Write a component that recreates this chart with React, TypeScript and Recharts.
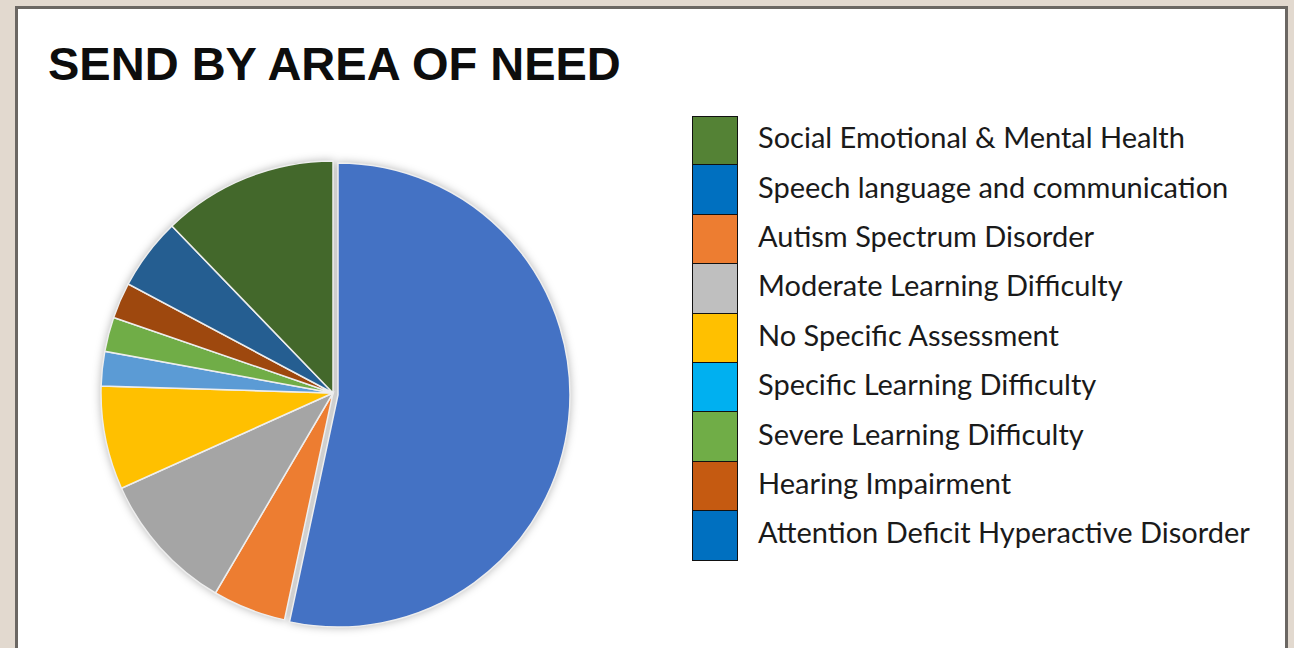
import React from 'react';
import { PieChart, Pie, Cell } from 'recharts';

// slices clockwise from 12 o'clock, share of pupils (%)
const categories = [
  'Speech language and communication',
  'Autism Spectrum Disorder',
  'Moderate Learning Difficulty',
  'No Specific Assessment',
  'Specific Learning Difficulty',
  'Severe Learning Difficulty',
  'Hearing Impairment',
  'Attention Deficit Hyperactive Disorder',
  'Social Emotional & Mental Health',
];
const shares = [53.3, 5.1, 9.8, 7.2, 2.4, 2.4, 2.5, 5.0, 12.2];
const sliceColors = ['#4472C4', '#ED7D31', '#A5A5A5', '#FFC000', '#5B9BD5', '#70AD47', '#9E480E', '#255E91', '#43682B'];

// the key beside the chart uses its own order and colours
const legendLabels = [
  'Social Emotional & Mental Health',
  'Speech language and communication',
  'Autism Spectrum Disorder',
  'Moderate Learning Difficulty',
  'No Specific Assessment',
  'Specific Learning Difficulty',
  'Severe Learning Difficulty',
  'Hearing Impairment',
  'Attention Deficit Hyperactive Disorder',
];
const legendColors = ['#548235', '#0070C0', '#ED7D31', '#BFBFBF', '#FFC000', '#00B0F0', '#70AD47', '#C55A11', '#0070C0'];

const data = categories.map((name, i) => ({ name, value: shares[i] }));

const CX = 333;
const CY = 393;
const R = 232;
const ROW = 49.4;

export default function App() {
  return (
    <div style={{ position: 'absolute', left: 0, top: 0, width: 1294, height: 648, background: '#e2d9cf', overflow: 'hidden' }}>
      <div
        style={{
          position: 'absolute',
          left: 15,
          top: 6,
          width: 1273,
          height: 700,
          background: '#fff',
          border: '3px solid #6b6763',
          boxSizing: 'border-box',
        }}
      />
      <div
        style={{
          position: 'absolute',
          left: 48,
          top: 41,
          fontFamily: '"Liberation Sans", Arial, sans-serif',
          fontWeight: 700,
          fontSize: 47,
          lineHeight: '46px',
          color: '#0d0d0d',
          whiteSpace: 'nowrap',
        }}
      >
        SEND BY AREA OF NEED
      </div>

      <div style={{ position: 'absolute', left: 0, top: 0, filter: 'drop-shadow(0 0 4px rgba(0,0,0,0.28))' }}>
        <PieChart width={680} height={648} margin={{ top: 0, right: 0, bottom: 0, left: 0 }}>
          <Pie
            data={data}
            dataKey="value"
            nameKey="name"
            cx={CX}
            cy={CY}
            outerRadius={R}
            startAngle={90}
            endAngle={-270}
            stroke="#eeeeee"
            strokeWidth={1.5}
            isAnimationActive={false}
          >
            {data.map((d, i) => (
              <Cell key={d.name} fill={i === 0 ? 'none' : sliceColors[i]} stroke={i === 0 ? 'none' : '#eeeeee'} />
            ))}
          </Pie>
          {/* exploded first slice */}
          <Pie
            data={data}
            dataKey="value"
            nameKey="name"
            cx={CX + 5}
            cy={CY + 2}
            outerRadius={R}
            startAngle={90}
            endAngle={-270}
            stroke="#eeeeee"
            strokeWidth={1.5}
            isAnimationActive={false}
          >
            {data.map((d, i) => (
              <Cell key={d.name} fill={i === 0 ? sliceColors[0] : 'none'} stroke={i === 0 ? '#eeeeee' : 'none'} />
            ))}
          </Pie>
        </PieChart>
      </div>

      <div style={{ position: 'absolute', left: 692, top: 116 }}>
        {legendLabels.map((label, i) => (
          <div key={label} style={{ display: 'flex', alignItems: 'center', height: ROW }}>
            <div
              style={{
                width: 46,
                height: ROW + 1,
                marginTop: i === 0 ? 0 : -1,
                background: legendColors[i],
                border: '1.5px solid #111',
                boxSizing: 'border-box',
              }}
            />
            <span
              style={{
                marginLeft: 20,
                position: 'relative',
                top: -4,
                fontFamily: 'Lato, "Open Sans", sans-serif',
                fontSize: 29,
                color: '#1a1a1a',
                whiteSpace: 'nowrap',
              }}
            >
              {label}
            </span>
          </div>
        ))}
      </div>
    </div>
  );
}
